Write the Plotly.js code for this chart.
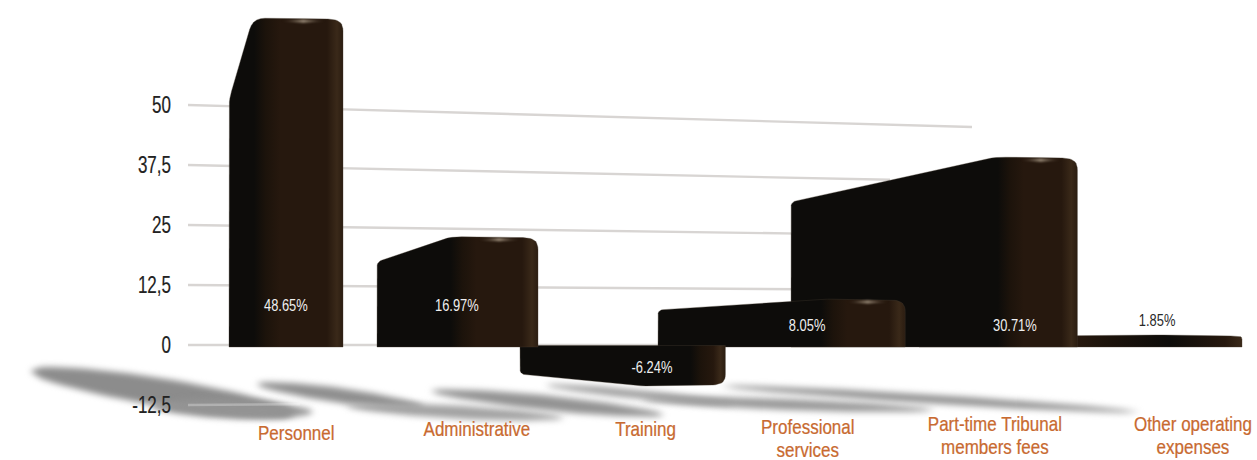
<!DOCTYPE html>
<html>
<head>
<meta charset="utf-8">
<script src="https://cdn.plot.ly/plotly-3.0.1.min.js"></script>
<style>html,body{margin:0;padding:0;background:#fff}#chart{width:1257px;height:460px}</style>
</head>
<body>
<div id="chart"></div>
<script>
// Budget breakdown, drawn as perspective column "3D" bars.
const categories = ['Personnel', 'Administrative', 'Training', 'Professional<br>services', 'Part-time Tribunal<br>members fees', 'Other operating<br>expenses'];
const shares = [48.65, 16.97, -6.24, 8.05, 30.71, 1.85];
const yTickValues = [-12.5, 0, 12.5, 25, 37.5, 50];
const yTickLabels = ['-12,5', '0', '12,5', '25', '37,5', '50'];

// Scene set-up: the horizontal axis runs in scene units, the vertical one in percent.
const W = 1257, H = 460, ZERO = 345, PX = 4.8;
const toValue = py => (ZERO - py) / PX;
const toPy = v => ZERO - v * PX;

// Perspective projection of each column's footprint.
const leftOf = i => 229 + 150.5 * i - 2.5 * i * i;
const rightOf = i => 343 + 198.8 * i - 3.8 * i * i;
const shoulderOf = i => rightOf(i) - (90 - 1.6 * i);
// Foreshortening of the near and far top edges for each slot.
const nearGain = [1.40, 1.33, 1.37, 1.19, 1.275, 1.13];
const farGain = [1.05, 1.02, 0.97, 0.906, 0.97, 0.9];
const brownDelay = [5, 5, 52, 5, 8, 0];

const BLACK = '#0d0c0a', DEEP = '#1c130b', BROWN = '#26180e', WARM = '#3a2919', EDGE = '#2b1d11';

// Turns a polygon into a smooth outline by replacing each corner with a quadratic arc.
function rounded(pts, radii) {
  const out = [];
  pts.forEach((p, k) => {
    const r = radii[k];
    if (!r) { out.push(p); return; }
    const a = pts[(k - 1 + pts.length) % pts.length], b = pts[(k + 1) % pts.length];
    const da = Math.hypot(a[0] - p[0], a[1] - p[1]), db = Math.hypot(b[0] - p[0], b[1] - p[1]);
    const ra = Math.min(r, da / 2), rb = Math.min(r, db / 2);
    const s = [p[0] + (a[0] - p[0]) * ra / da, p[1] + (a[1] - p[1]) * ra / da];
    const e = [p[0] + (b[0] - p[0]) * rb / db, p[1] + (b[1] - p[1]) * rb / db];
    for (let t = 0; t <= 1.001; t += 0.2) {
      const u = 1 - t;
      out.push([u * u * s[0] + 2 * u * t * p[0] + t * t * e[0], u * u * s[1] + 2 * u * t * p[1] + t * t * e[1]]);
    }
  });
  out.push(out[0]);
  return out;
}

// Gradient positions must only ever increase along the face.
function ascending(stops) {
  let last = -1;
  const out = stops.map(s => {
    const pos = Math.max(s[0], last + 0.001);
    last = pos;
    return [pos, s[1]];
  });
  const top = out[out.length - 1][0];
  return out.map(s => [s[0] / top, s[1]]);
}

function faceStops(i) {
  const L = leftOf(i), R = rightOf(i), f = x => Math.max(0, Math.min(1, (x - L) / (R - L)));
  const B = shoulderOf(i) + brownDelay[i];
  if (i === 5) {
    return ascending([[0, BLACK], [f(1078), BROWN], [f(1110), DEEP], [f(1170), BLACK], [f(1225), BROWN], [1, WARM]]);
  }
  if (i === 2) {
    return ascending([[0, BLACK], [f(B), BLACK], [f(B + 10), DEEP], [f(R - 12), BROWN], [f(R - 5), WARM], [1, EDGE]]);
  }
  return ascending([[0, BLACK], [f(B - 4), BLACK], [f(B + 8), DEEP], [f(B + 22), BROWN], [f(R - 16), BROWN], [f(R - 6), WARM], [1, EDGE]]);
}

function barTrace(i) {
  const v = shares[i], L = leftOf(i), R = rightOf(i), S = shoulderOf(i);
  const nearY = toPy(v * nearGain[i]), farY = toPy(v * farGain[i]);
  const dir = v >= 0 ? 1 : -1;
  const base = v >= 0 ? ZERO + 2 : ZERO + 0.5;
  const r = Math.min(7, Math.abs(ZERO - nearY) / 3);
  const tilt = dir * Math.min(6, Math.abs(ZERO - nearY) / 8);
  const outline = rounded(
    [[L, base], [L, farY], [S, nearY], [R - 8, nearY + dir * 1], [R, nearY + tilt], [R, base]],
    [0, i === 0 ? 9 : 5, 12, r, r, 0].map(x => Math.min(x, Math.abs(ZERO - nearY) / 2.5))
  );
  return {
    x: outline.map(p => p[0]), y: outline.map(p => toValue(p[1])),
    mode: 'lines', fill: 'toself', hoverinfo: 'skip', showlegend: false,
    line: {color: 'rgba(70,60,50,0.35)', width: 1},
    fillgradient: {type: 'horizontal', colorscale: faceStops(i)}
  };
}

// Small sheen on the near rim of a column top.
function rimTrace(i, offset) {
  const S = shoulderOf(i), R = rightOf(i), c = S + 0.56 * (R - S), hw = 0.25 * (R - S);
  const y = toPy(shares[i] * nearGain[i]) + offset;
  const xs = [c - hw, c, c + hw, c, c - hw];
  const ys = [y, y - 1.6, y, y + 1.6, y];
  return {
    x: xs, y: ys.map(toValue), mode: 'lines', fill: 'toself', hoverinfo: 'skip', showlegend: false,
    line: {width: 0, color: 'rgba(0,0,0,0)'},
    fillgradient: {type: 'horizontal', colorscale: [[0, 'rgba(150,135,115,0)'], [0.5, 'rgba(175,160,140,0.85)'], [1, 'rgba(150,135,115,0)']]}
  };
}

// Gridlines converge slightly toward the back of the scene.
const converge = x => 1 - (x - 188) * 0.000117;
const gridEnds = [300, 800, 800, 800, 890, 972];
function gridTrace(k) {
  const end = gridEnds[k], v = yTickValues[k];
  return {
    x: [188, end], y: [v, v * converge(end)], mode: 'lines', hoverinfo: 'skip', showlegend: false,
    line: {color: k === 0 ? 'rgba(255,255,255,0.28)' : '#d8d5d3', width: 2.4}
  };
}

// Tapered floor shadow between two scene points.
function streak(x0, y0, x1, y1, thick, color, power) {
  const top = [], bottom = [];
  for (let n = 0; n <= 24; n++) {
    const u = n / 24, x = x0 + (x1 - x0) * u, y = y0 + (y1 - y0) * u;
    const t = thick / 2 * Math.pow(Math.sin(Math.PI * u), power || 0.55);
    top.push([x, y - t]);
    bottom.unshift([x, y + t]);
  }
  const pts = top.concat(bottom);
  return {
    x: pts.map(p => p[0]), y: pts.map(p => toValue(p[1])),
    mode: 'lines', fill: 'toself', fillcolor: color, hoverinfo: 'skip', showlegend: false,
    line: {width: 0, color: 'rgba(0,0,0,0)'}
  };
}

const shadowTraces = [
  streak(30, 371, 296, 414, 28, '#8c8c8c', 0.45),
  streak(150, 406, 314, 412, 19, '#939393'),
  streak(256, 384, 425, 407, 15, '#8f8f8f'),
  streak(345, 406, 565, 418, 13, '#a2a2a2'),
  streak(430, 391, 665, 415, 15, '#939393'),
  streak(545, 385, 735, 404, 9, '#a0a0a0'),
  streak(640, 399, 935, 410, 11, '#999999'),
  streak(720, 386, 1140, 412, 9, '#939393')
];

const gridBack = yTickValues.map((_, k) => gridTrace(k)).filter((_, k) => k !== 0);
const gridLow = [gridTrace(0)];
const drawOrder = [5, 4, 3, 2, 1, 0];
const barTraces = drawOrder.map(barTrace);
const rimTraces = [[0, 3], [1, 3], [3, 3], [4, 3]].map(a => rimTrace(a[0], a[1]));

const traces = [...gridBack, ...shadowTraces, ...gridLow, ...barTraces, ...rimTraces];
const shadowStart = gridBack.length, shadowEnd = shadowStart + shadowTraces.length;
const rimStart = traces.length - rimTraces.length;

const valueLabelX = [286, 457, 652, 807, 1015, 1157];
const valueLabelPy = [305, 305, 367, 325, 325, 320];
const categoryX = [296, 477, 645, 808, 995, 1193];
const categoryPy = [432, 428, 428, 440, 437, 437];

const FONT = '"Liberation Sans",sans-serif';
const annotations = [];
shares.forEach((v, i) => {
  annotations.push({
    x: valueLabelX[i], y: toValue(valueLabelPy[i]), xref: 'x', yref: 'y', showarrow: false,
    text: v.toFixed(2) + '%', font: {family: FONT, size: 17, color: i === 5 ? '#2a2a2a' : '#efefef'}
  });
  annotations.push({
    x: categoryX[i], y: toValue(categoryPy[i]), xref: 'x', yref: 'y', showarrow: false,
    text: categories[i], font: {family: FONT, size: 21, color: '#c86a30'}
  });
});

const layout = {
  width: W, height: H, margin: {l: 0, r: 0, t: 0, b: 0},
  paper_bgcolor: '#fff', plot_bgcolor: '#fff', showlegend: false,
  xaxis: {range: [0, W], visible: false, fixedrange: true},
  yaxis: {
    range: [toValue(H), toValue(0)], anchor: 'free', position: 171 / W, fixedrange: true,
    tickmode: 'array', tickvals: yTickValues, ticktext: yTickLabels,
    showgrid: false, zeroline: false, showline: false, ticks: '', ticklen: 0,
    tickfont: {family: FONT, size: 23, color: '#222'}
  },
  annotations
};

// Squeezes a text horizontally about an anchor, giving the condensed face of the labels.
function condense(el, k, anchorRight) {
  const box = el.getBBox();
  const cx = anchorRight ? box.x + box.width : box.x + box.width / 2;
  const prior = el.getAttribute('transform') || '';
  el.setAttribute('transform', `${prior} translate(${cx} 0) scale(${k} 1) translate(${-cx} 0)`);
}

Plotly.newPlot('chart', traces, layout, {displayModeBar: false, staticPlot: true}).then(() => {
  // Soften the floor shadows and the rim sheen.
  const groups = document.querySelectorAll('.scatterlayer .trace');
  for (let k = shadowStart; k < shadowEnd; k++) groups[k].style.filter = 'blur(3px)';
  for (let k = rimStart; k < groups.length; k++) groups[k].style.filter = 'blur(0.8px)';

  document.querySelectorAll('.ytick text').forEach(t => {
    t.style.stroke = '#222';
    t.style.strokeWidth = '0.2px';
    condense(t, 0.74, true);
  });
  document.querySelectorAll('.annotation-text').forEach(t => {
    const isValue = t.textContent.includes('%');
    if (!isValue) {
      // Tighter leading for the two-line category names.
      t.querySelectorAll('tspan.line').forEach((line, n) => { if (n > 0) line.setAttribute('dy', '1.1em'); });
      t.style.stroke = '#c86a30';
      t.style.strokeWidth = '0.25px';
    }
    condense(t, isValue ? 0.76 : 0.81, false);
  });
});
</script>
</body>
</html>
